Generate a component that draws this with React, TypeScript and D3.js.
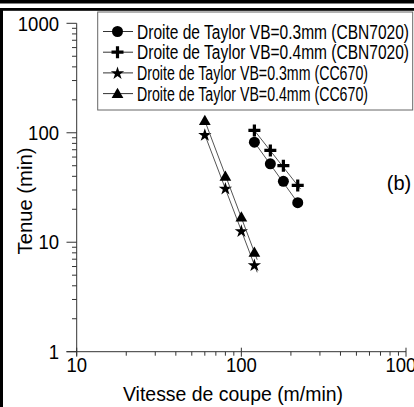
import React, { useEffect, useRef } from 'react';
import * as d3 from 'd3';

// cutting speeds (m/min)
const speedsCBN = [120, 150, 180, 220];
const speedsCC = [60, 80, 100, 120];

// tool life (min)
const lifeCBN03 = [82, 52, 36, 23];
const lifeCBN04 = [105, 69, 50, 33];
const lifeCC03 = [96, 31, 12.7, 6.2];
const lifeCC04 = [129, 40, 17, 8.1];

const seriesNames = [
  'Droite de Taylor VB=0.3mm (CBN7020)',
  'Droite de Taylor VB=0.4mm (CBN7020)',
  'Droite de Taylor VB=0.3mm (CC670)',
  'Droite de Taylor VB=0.4mm (CC670)',
];
const markers = ['circle', 'plus', 'star', 'triangle'];

const xTicks = [10, 100, 1000];
const yTicks = [1, 10, 100, 1000];

const W = 414,
  H = 407;

const drawMarker = (g, type, x, y) => {
  if (type === 'circle') {
    g.append('circle').attr('cx', x).attr('cy', y).attr('r', 5.5).attr('fill', '#000');
  } else if (type === 'plus') {
    g.append('path')
      .attr('d', `M${x - 6},${y}H${x + 6}M${x},${y - 6}V${y + 6}`)
      .attr('stroke', '#000')
      .attr('stroke-width', 3.2);
  } else if (type === 'star') {
    g.append('path')
      .attr('d', d3.symbol(d3.symbolStar, 55)())
      .attr('transform', `translate(${x},${y + 0.5})`)
      .attr('fill', '#000');
  } else {
    g.append('path')
      .attr('d', d3.symbol(d3.symbolTriangle, 60)())
      .attr('transform', `translate(${x},${y + 1})`)
      .attr('fill', '#000');
  }
};

const buildChart = (el) => {
  d3.select(el).selectAll('*').remove();
  const svg = d3
    .select(el)
    .append('svg')
    .attr('width', W)
    .attr('height', H)
    .style('display', 'block')
    .style('font-family', '"Liberation Sans", Arial, sans-serif');

  svg.append('rect').attr('width', W).attr('height', H).attr('fill', '#fff');

  // frame of the figure
  svg.append('rect').attr('x', 0).attr('y', 0).attr('width', W).attr('height', 3.5).attr('fill', '#000');
  svg.append('rect').attr('x', 0).attr('y', 8).attr('width', W).attr('height', 2.8).attr('fill', '#000');
  svg.append('rect').attr('x', 0).attr('y', 8).attr('width', 3).attr('height', H).attr('fill', '#000');

  const x = d3.scaleLog().domain([10, 1000]).range([76.7, 406]);
  const y = d3.scaleLog().domain([1, 1000]).range([351.7, 23.3]);

  const axis = svg.append('g').attr('stroke', '#333').attr('stroke-width', 1);

  // y axis
  axis.append('line').attr('x1', 76.7).attr('x2', 76.7).attr('y1', y(1000)).attr('y2', y(1) + 4);
  for (let d = 1; d < 1000; d *= 10) {
    for (let m = 2; m <= 9; m++) {
      axis
        .append('line')
        .attr('x1', 72)
        .attr('x2', 76.7)
        .attr('y1', y(d * m))
        .attr('y2', y(d * m));
    }
  }
  yTicks.forEach((t) => {
    axis.append('line').attr('x1', 66.5).attr('x2', 76.7).attr('y1', y(t)).attr('y2', y(t));
    svg
      .append('text')
      .attr('x', 59)
      .attr('y', y(t))
      .attr('dy', '0.36em')
      .attr('text-anchor', 'end')
      .attr('font-size', 20)
      .attr('textLength', String(t).length * 10.3)
      .attr('lengthAdjust', 'spacingAndGlyphs')
      .text(t);
  });

  // x axis
  axis.append('line').attr('x1', 66.5).attr('x2', 406).attr('y1', y(1)).attr('y2', y(1));
  for (let d = 10; d < 1000; d *= 10) {
    for (let m = 2; m <= 9; m++) {
      axis
        .append('line')
        .attr('x1', x(d * m))
        .attr('x2', x(d * m))
        .attr('y1', y(1))
        .attr('y2', y(1) + 4);
    }
  }
  xTicks.forEach((t) => {
    axis
      .append('line')
      .attr('x1', x(t))
      .attr('x2', x(t))
      .attr('y1', y(1) - 4)
      .attr('y2', y(1) + 5);
    svg
      .append('text')
      .attr('x', x(t))
      .attr('y', 372)
      .attr('text-anchor', 'middle')
      .attr('font-size', 20)
      .attr('textLength', String(t).length * 10.3)
      .attr('lengthAdjust', 'spacingAndGlyphs')
      .text(t);
  });

  svg
    .append('text')
    .attr('x', 233)
    .attr('y', 401)
    .attr('text-anchor', 'middle')
    .attr('font-size', 20)
    .attr('textLength', 220)
    .attr('lengthAdjust', 'spacingAndGlyphs')
    .text('Vitesse de coupe (m/min)');

  svg
    .append('text')
    .attr('transform', 'translate(32,201) rotate(-90)')
    .attr('text-anchor', 'middle')
    .attr('font-size', 20)
    .attr('textLength', 107)
    .attr('lengthAdjust', 'spacingAndGlyphs')
    .text('Tenue (min)');

  svg
    .append('text')
    .attr('x', 399)
    .attr('y', 190)
    .attr('text-anchor', 'middle')
    .attr('font-size', 20)
    .text('(b)');

  // data series
  const series = [
    { speeds: speedsCBN, life: lifeCBN03 },
    { speeds: speedsCBN, life: lifeCBN04 },
    { speeds: speedsCC, life: lifeCC03 },
    { speeds: speedsCC, life: lifeCC04 },
  ];

  const line = d3
    .line()
    .x((d) => x(d[0]))
    .y((d) => y(d[1]));

  series.forEach((s, i) => {
    const pts = s.speeds.map((v, j) => [v, s.life[j]]);
    // fitted Taylor line, straight in log-log
    const first = pts[0],
      last = pts[pts.length - 1];
    const slope = Math.log(last[1] / first[1]) / Math.log(last[0] / first[0]);
    const v1 = last[0] * 1.04;
    const ext = [first, [v1, last[1] * Math.pow(v1 / last[0], slope)]];
    svg
      .append('path')
      .attr('d', line(ext))
      .attr('fill', 'none')
      .attr('stroke', '#555')
      .attr('stroke-width', 1);
    const g = svg.append('g');
    pts.forEach((p) => drawMarker(g, markers[i], x(p[0]), y(p[1])));
  });

  // legend
  const lg = svg.append('g');
  lg.append('rect')
    .attr('x', 97.7)
    .attr('y', 12)
    .attr('width', 315)
    .attr('height', 98)
    .attr('fill', '#fff')
    .attr('stroke', '#666')
    .attr('stroke-width', 1);
  seriesNames.forEach((name, i) => {
    const cy = 31.5 + i * 20.7;
    lg.append('line')
      .attr('x1', 103)
      .attr('x2', 133)
      .attr('y1', cy)
      .attr('y2', cy)
      .attr('stroke', '#333')
      .attr('stroke-width', 1);
    drawMarker(lg, markers[i], 117.5, cy);
    lg.append('text')
      .attr('x', 137)
      .attr('y', cy)
      .attr('dy', '0.36em')
      .attr('font-size', 19.5)
      .attr('textLength', i < 2 ? 272 : 231)
      .attr('lengthAdjust', 'spacingAndGlyphs')
      .text(name);
  });
};

const App = () => {
  const ref = useRef(null);
  useEffect(() => {
    buildChart(ref.current);
  }, []);
  return <div ref={ref} style={{ position: 'absolute', left: 0, top: 0 }} />;
};

export default App;
